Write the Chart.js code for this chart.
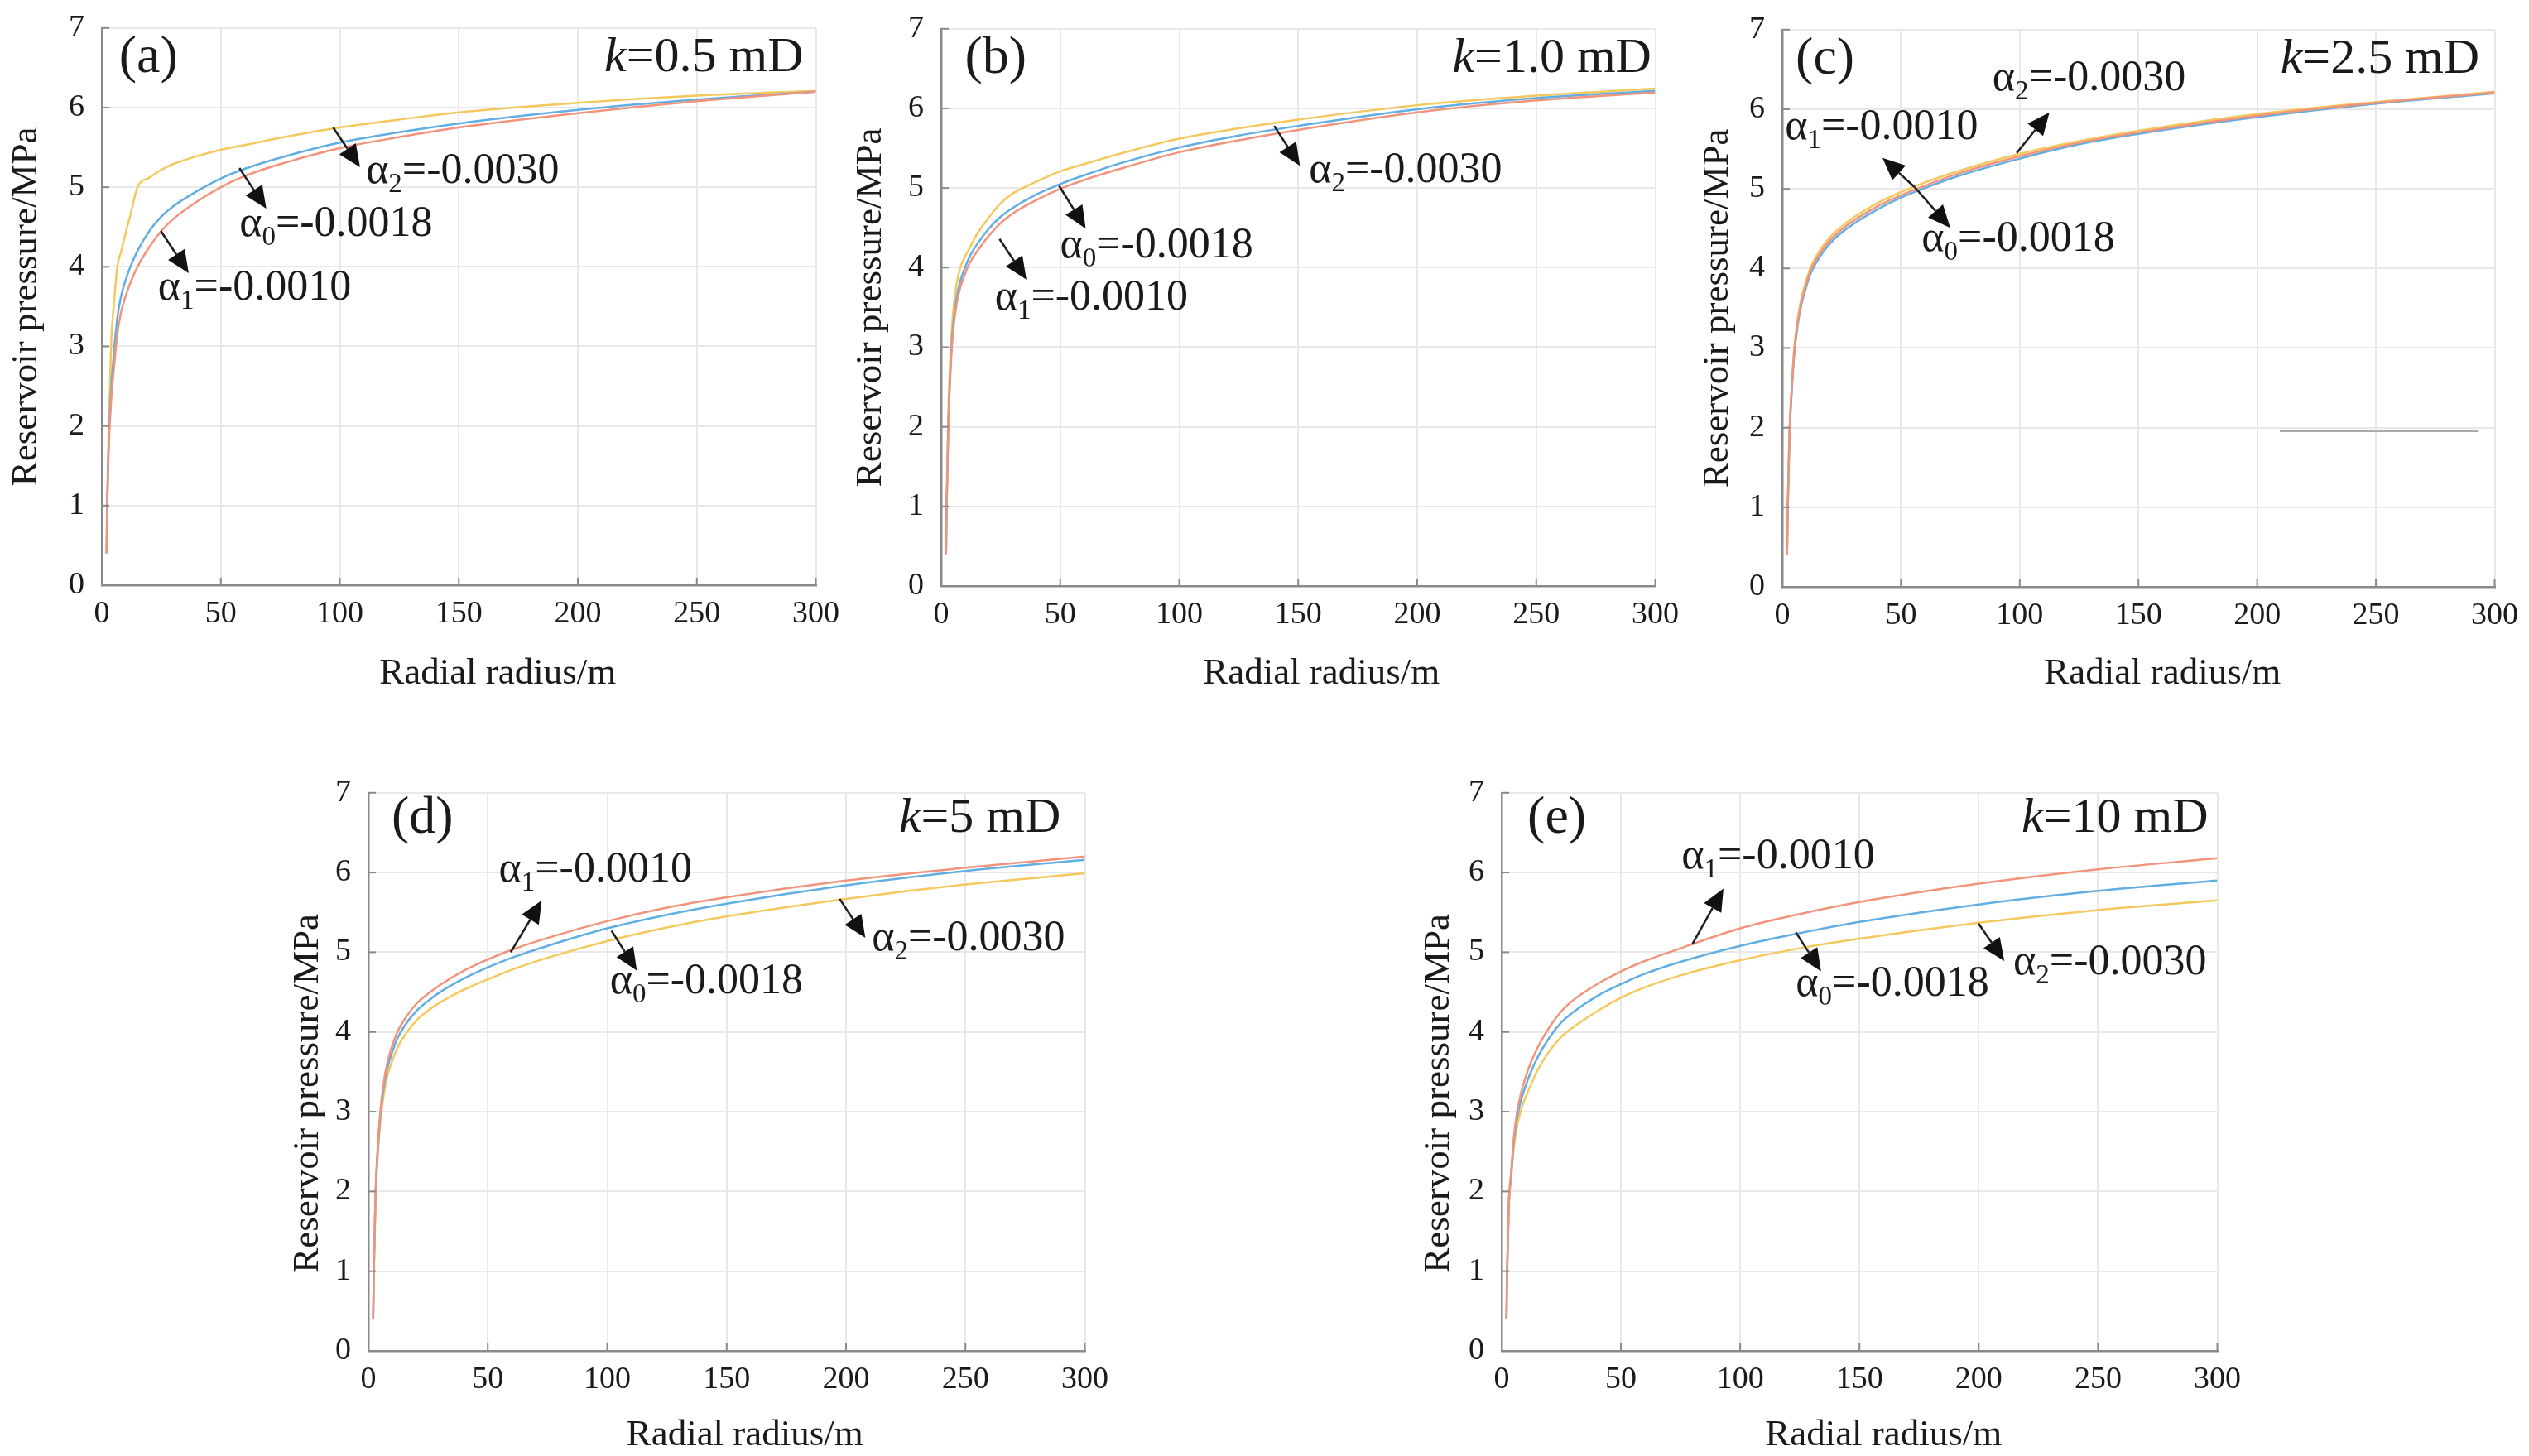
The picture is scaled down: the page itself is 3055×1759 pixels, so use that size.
<!DOCTYPE html>
<html>
<head>
<meta charset="utf-8">
<script src="https://cdn.jsdelivr.net/npm/chart.js@4.4.1/dist/chart.umd.min.js"></script>
<style>
  html, body { margin: 0; padding: 0; background: #fff; }
  body { width: 3055px; height: 1759px; position: relative; overflow: hidden; }
  .panel { position: absolute; }
</style>
</head>
<body>
<div class="panel" id="box-a"><canvas id="chart-a"></canvas></div>
<div class="panel" id="box-b"><canvas id="chart-b"></canvas></div>
<div class="panel" id="box-c"><canvas id="chart-c"></canvas></div>
<div class="panel" id="box-d"><canvas id="chart-d"></canvas></div>
<div class="panel" id="box-e"><canvas id="chart-e"></canvas></div>
<script>
// radial radius (m) where the curves were read
const radius = [2, 2.3, 3, 4, 5, 6.5, 8, 10, 12, 15, 20, 25, 30, 40, 50, 60, 75, 100, 125, 150, 200, 250, 300];

// reservoir pressure (MPa), one array per panel and alpha
const a_alpha1 = [0.4, 1.0, 1.8, 2.35, 2.7, 3.15, 3.42, 3.63, 3.8, 4.0, 4.25, 4.45, 4.6, 4.82, 5.0, 5.14, 5.29, 5.49, 5.63, 5.75, 5.93, 6.08, 6.2];
const a_alpha0 = [0.4, 1.05, 1.9, 2.5, 2.9, 3.35, 3.62, 3.83, 4.0, 4.2, 4.45, 4.63, 4.76, 4.95, 5.11, 5.23, 5.37, 5.56, 5.69, 5.8, 5.97, 6.1, 6.2];
const a_alpha2 = [0.4, 1.1, 2.1, 3.1, 3.5, 4.0, 4.18, 4.42, 4.65, 5.0, 5.12, 5.22, 5.29, 5.39, 5.47, 5.53, 5.62, 5.75, 5.85, 5.94, 6.06, 6.15, 6.21];

const b_alpha1 = [0.4, 1.05, 2.0, 2.75, 3.2, 3.55, 3.75, 3.92, 4.06, 4.2, 4.4, 4.56, 4.68, 4.85, 4.99, 5.1, 5.24, 5.45, 5.6, 5.73, 5.95, 6.1, 6.2];
const b_alpha0 = [0.4, 1.05, 2.05, 2.85, 3.28, 3.63, 3.83, 4.0, 4.14, 4.29, 4.49, 4.64, 4.75, 4.92, 5.05, 5.16, 5.31, 5.51, 5.66, 5.78, 5.99, 6.13, 6.22];
const b_alpha2 = [0.4, 1.1, 2.2, 3.0, 3.45, 3.8, 4.0, 4.14, 4.25, 4.42, 4.63, 4.81, 4.93, 5.08, 5.21, 5.3, 5.43, 5.62, 5.75, 5.86, 6.04, 6.16, 6.25];

const c_alpha1 = [0.4, 1.0, 1.9, 2.5, 2.95, 3.33, 3.58, 3.8, 3.98, 4.15, 4.35, 4.49, 4.6, 4.78, 4.92, 5.04, 5.2, 5.41, 5.58, 5.71, 5.92, 6.08, 6.21];
const c_alpha0 = [0.4, 0.98, 1.86, 2.46, 2.91, 3.29, 3.54, 3.76, 3.94, 4.11, 4.31, 4.45, 4.56, 4.74, 4.89, 5.01, 5.17, 5.38, 5.56, 5.69, 5.9, 6.07, 6.2];
const c_alpha2 = [0.4, 1.03, 1.94, 2.54, 2.99, 3.37, 3.62, 3.84, 4.02, 4.19, 4.39, 4.53, 4.64, 4.82, 4.96, 5.08, 5.23, 5.44, 5.6, 5.73, 5.94, 6.09, 6.22];

const d_alpha1 = [0.4, 1.05, 2.0, 2.6, 3.0, 3.38, 3.62, 3.83, 3.99, 4.15, 4.35, 4.48, 4.59, 4.77, 4.91, 5.03, 5.18, 5.39, 5.56, 5.69, 5.9, 6.06, 6.2];
const d_alpha0 = [0.4, 1.05, 1.95, 2.55, 2.95, 3.32, 3.55, 3.75, 3.91, 4.07, 4.26, 4.39, 4.5, 4.67, 4.81, 4.93, 5.08, 5.3, 5.47, 5.61, 5.84, 6.02, 6.16];
const d_alpha2 = [0.4, 1.0, 1.9, 2.48, 2.87, 3.22, 3.45, 3.64, 3.79, 3.95, 4.14, 4.27, 4.37, 4.53, 4.66, 4.78, 4.93, 5.14, 5.31, 5.45, 5.67, 5.85, 5.99];

const e_alpha1 = [0.4, 1.0, 1.85, 2.25, 2.65, 3.0, 3.22, 3.43, 3.6, 3.8, 4.06, 4.26, 4.4, 4.6, 4.76, 4.89, 5.05, 5.3, 5.48, 5.63, 5.86, 6.04, 6.18];
const e_alpha0 = [0.4, 1.0, 1.83, 2.22, 2.6, 2.93, 3.13, 3.32, 3.48, 3.68, 3.93, 4.12, 4.25, 4.45, 4.6, 4.73, 4.88, 5.08, 5.24, 5.38, 5.6, 5.77, 5.9];
const e_alpha2 = [0.4, 1.0, 1.8, 2.18, 2.52, 2.83, 3.01, 3.18, 3.32, 3.52, 3.76, 3.94, 4.06, 4.26, 4.43, 4.56, 4.71, 4.9, 5.05, 5.17, 5.37, 5.53, 5.65];

// stray grey stroke that sits inside panel (c)
const strayX = [209.5, 293];
const strayY = [1.96, 1.96];

const xTicks = [0, 50, 100, 150, 200, 250, 300];
const yTicks = [0, 1, 2, 3, 4, 5, 6, 7];
const alphaSubs = ['1', '0', '2'];
const alphaVals = ['-0.0010', '-0.0018', '-0.0030'];
const kValues = ['0.5', '1.0', '2.5', '5', '10'];
const letters = ['(a)', '(b)', '(c)', '(d)', '(e)'];

const colors = ['#f2937c', '#62aee2', '#f5c85e'];
const serif = '"Liberation Serif", "Times New Roman", serif';
const ink = '#1a1a1a';
const spine = '#8a8a8a';
const gridCol = '#e8e8e8';

// plot-area boxes in page pixels, plus label placement (data units)
const panels = [
  { key: 'a', L: 123, R: 990, T: 24, B: 707, series: [a_alpha1, a_alpha0, a_alpha2],
    xtDx: 47, xtDy: 107, ytGap: 91, ytDy: 0, tagAt: [7.2, 6.62], kAt: [294.8, 6.62],
    notes: [
      { i: 2, tail: [97.2, 5.75], tip: [108.5, 5.25], at: [111, 5.2] },
      { i: 1, tail: [57.8, 5.24], tip: [69.1, 4.73], at: [57.8, 4.53] },
      { i: 0, tail: [24.8, 4.45], tip: [36.5, 3.92], at: [23.6, 3.73] }
    ] },
  { key: 'b', L: 1137, R: 2004, T: 25, B: 708, series: [b_alpha1, b_alpha0, b_alpha2],
    xtDx: 28, xtDy: 106, ytGap: 85, ytDy: 0, tagAt: [9.9, 6.62], kAt: [298.4, 6.62],
    notes: [
      { i: 2, tail: [139.9, 5.78], tip: [150.7, 5.28], at: [154.5, 5.22] },
      { i: 1, tail: [49.5, 5.03], tip: [60.7, 4.49], at: [49.9, 4.27] },
      { i: 0, tail: [24.5, 4.36], tip: [35.8, 3.85], at: [22.5, 3.62] }
    ] },
  { key: 'c', L: 2153, R: 3018, T: 26, B: 709, series: [c_alpha1, c_alpha0, c_alpha2],
    xtDx: 29, xtDy: 105, ytGap: 78, ytDy: 0, tagAt: [5.6, 6.62], kAt: [293.6, 6.62], stray: true,
    notes: [
      { i: 2, tail: [98.7, 5.45], tip: [112.5, 5.96], at: [88.5, 6.38] },
      { i: 0, tail: [55.8, 5.02], tip: [42.2, 5.39], at: [1.1, 5.77] },
      { i: 1, tail: [55.8, 5.02], tip: [70.7, 4.51], at: [58.7, 4.36] }
    ] },
  { key: 'd', L: 445, R: 1315, T: 948, B: 1632, series: [d_alpha1, d_alpha0, d_alpha2],
    xtDx: 22, xtDy: 102, ytGap: 73, ytDy: 26, tagAt: [9.7, 6.67], kAt: [289.9, 6.67],
    notes: [
      { i: 0, tail: [59.6, 5.0], tip: [72.6, 5.65], at: [54.6, 6.03] },
      { i: 1, tail: [101.8, 5.27], tip: [112.4, 4.77], at: [101.1, 4.63] },
      { i: 2, tail: [197.3, 5.67], tip: [208.1, 5.18], at: [210.8, 5.17] }
    ] },
  { key: 'e', L: 1814, R: 2683, T: 948, B: 1632, series: [e_alpha1, e_alpha0, e_alpha2],
    xtDx: 29, xtDy: 102, ytGap: 76, ytDy: 26, tagAt: [10.8, 6.67], kAt: [296.2, 6.67],
    notes: [
      { i: 0, tail: [79.9, 5.1], tip: [93, 5.8], at: [75.4, 6.2] },
      { i: 1, tail: [123.3, 5.25], tip: [133.9, 4.76], at: [123.3, 4.6] },
      { i: 2, tail: [199.9, 5.36], tip: [210.7, 4.89], at: [214.5, 4.87] }
    ] }
];

const Y_AXIS_W = 123, X_AXIS_H = 140, PAD_TOP = 34, PAD_RIGHT = 36;

function drawArrow(ctx, x1, y1, x2, y2) {
  const ang = Math.atan2(y2 - y1, x2 - x1);
  const headL = 27, headW = 12;
  const bx = x2 - headL * Math.cos(ang), by = y2 - headL * Math.sin(ang);
  ctx.beginPath();
  ctx.moveTo(x1, y1);
  ctx.lineTo(bx, by);
  ctx.stroke();
  ctx.beginPath();
  ctx.moveTo(x2, y2);
  ctx.lineTo(bx + headW * Math.sin(ang), by - headW * Math.cos(ang));
  ctx.lineTo(bx - headW * Math.sin(ang), by + headW * Math.cos(ang));
  ctx.closePath();
  ctx.fill();
}

function drawAlpha(ctx, x, y, sub, val) {
  ctx.textAlign = 'left';
  ctx.textBaseline = 'middle';
  ctx.font = '52px ' + serif;
  ctx.fillText('α', x, y);
  const w1 = ctx.measureText('α').width;
  ctx.font = '33px ' + serif;
  ctx.fillText(sub, x + w1, y + 16);
  const w2 = ctx.measureText(sub).width;
  ctx.font = '52px ' + serif;
  ctx.fillText('=' + val, x + w1 + w2, y);
}

function makeDecor(p, idx) {
  return {
    id: 'decor' + p.key,
    afterDraw(chart) {
      const { ctx, chartArea, scales: { x, y } } = chart;
      ctx.save();

      // inward tick marks on left and bottom spines
      ctx.strokeStyle = spine;
      ctx.lineWidth = 2;
      yTicks.forEach(v => {
        const py = y.getPixelForValue(v);
        ctx.beginPath(); ctx.moveTo(chartArea.left, py); ctx.lineTo(chartArea.left + 9, py); ctx.stroke();
      });
      xTicks.forEach(v => {
        const px = x.getPixelForValue(v);
        ctx.beginPath(); ctx.moveTo(px, chartArea.bottom); ctx.lineTo(px, chartArea.bottom - 9); ctx.stroke();
      });

      // axis titles
      ctx.fillStyle = ink;
      ctx.font = '45px ' + serif;
      ctx.textAlign = 'center';
      ctx.textBaseline = 'middle';
      const cx = (chartArea.left + chartArea.right) / 2;
      ctx.fillText('Radial radius/m', cx + p.xtDx, chartArea.bottom + p.xtDy);
      ctx.save();
      ctx.translate(chartArea.left - p.ytGap, (chartArea.top + chartArea.bottom) / 2 + p.ytDy);
      ctx.rotate(-Math.PI / 2);
      ctx.fillText('Reservoir pressure/MPa', 0, 0);
      ctx.restore();

      // panel tag and permeability
      ctx.textAlign = 'left';
      ctx.font = '64px ' + serif;
      ctx.fillText(letters[idx], x.getPixelForValue(p.tagAt[0]), y.getPixelForValue(p.tagAt[1]));
      ctx.font = '60px ' + serif;
      const rest = '=' + kValues[idx] + ' mD';
      const wRest = ctx.measureText(rest).width;
      ctx.font = 'italic 60px ' + serif;
      const wK = ctx.measureText('k').width;
      const kx = x.getPixelForValue(p.kAt[0]) - wRest - wK;
      const ky = y.getPixelForValue(p.kAt[1]);
      ctx.fillText('k', kx, ky);
      ctx.font = '60px ' + serif;
      ctx.fillText(rest, kx + wK, ky);

      // arrows and alpha labels
      ctx.strokeStyle = '#1e1e1e';
      ctx.fillStyle = '#111';
      ctx.lineWidth = 2.5;
      p.notes.forEach(n => {
        drawArrow(ctx,
          x.getPixelForValue(n.tail[0]), y.getPixelForValue(n.tail[1]),
          x.getPixelForValue(n.tip[0]), y.getPixelForValue(n.tip[1]));
      });
      ctx.fillStyle = ink;
      p.notes.forEach(n => {
        drawAlpha(ctx, x.getPixelForValue(n.at[0]), y.getPixelForValue(n.at[1]), alphaSubs[n.i], alphaVals[n.i]);
      });
      ctx.restore();
    }
  };
}

panels.forEach((p, idx) => {
  const box = document.getElementById('box-' + p.key);
  const canvas = document.getElementById('chart-' + p.key);
  const w = p.R - p.L + Y_AXIS_W + PAD_RIGHT;
  const h = p.B - p.T + PAD_TOP + X_AXIS_H;
  box.style.left = (p.L - Y_AXIS_W) + 'px';
  box.style.top = (p.T - PAD_TOP) + 'px';
  box.style.width = w + 'px';
  box.style.height = h + 'px';
  canvas.width = w;
  canvas.height = h;

  const datasets = [0, 1, 2].map(s => ({
    label: 'α' + alphaSubs[s] + '=' + alphaVals[s],
    data: radius.map((r, j) => ({ x: r, y: p.series[s][j] })),
    borderColor: colors[s],
    borderWidth: 2.5,
    pointRadius: 0,
    cubicInterpolationMode: 'monotone',
    fill: false
  }));
  if (p.stray) {
    datasets.push({
      label: 'stroke',
      data: strayX.map((v, j) => ({ x: v, y: strayY[j] })),
      borderColor: '#a9a9a9',
      borderWidth: 3,
      pointRadius: 0
    });
  }

  new Chart(canvas, {
    type: 'line',
    data: { datasets },
    options: {
      responsive: false,
      animation: false,
      devicePixelRatio: 1,
      layout: { padding: { left: 0, top: PAD_TOP, right: PAD_RIGHT, bottom: 0 } },
      plugins: { legend: { display: false }, tooltip: { enabled: false } },
      scales: {
        x: {
          type: 'linear', min: 0, max: 300,
          afterBuildTicks: s => { s.ticks = xTicks.map(v => ({ value: v })); },
          afterFit: s => { s.height = X_AXIS_H; },
          ticks: { color: ink, font: { family: serif, size: 38 }, padding: 12, maxRotation: 0 },
          grid: { color: gridCol, lineWidth: 2, drawTicks: false },
          border: { color: spine, width: 2.5 }
        },
        y: {
          type: 'linear', min: 0, max: 7,
          afterBuildTicks: s => { s.ticks = yTicks.map(v => ({ value: v })); },
          afterFit: s => { s.width = Y_AXIS_W; },
          ticks: { color: ink, font: { family: serif, size: 38 }, padding: 21 },
          grid: { color: gridCol, lineWidth: 2, drawTicks: false },
          border: { color: spine, width: 2.5 }
        }
      }
    },
    plugins: [makeDecor(p, idx)]
  });
});
</script>
</body>
</html>
